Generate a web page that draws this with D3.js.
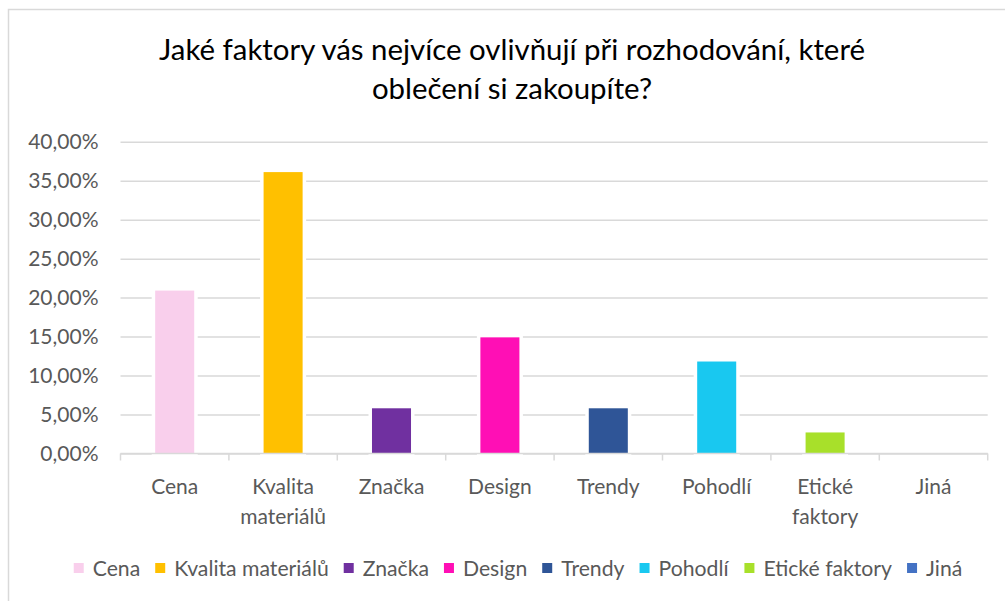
<!DOCTYPE html>
<html>
<head>
<meta charset="utf-8" />
<title>Faktory při nákupu oblečení</title>
<style>
  body { margin: 0; background: #fff; }
  svg text { font-family: Lato, "Open Sans", sans-serif; }
</style>
</head>
<body>
<div id="chart"></div>
<script src="https://d3js.org/d3.v7.min.js"></script>
<script>
// data
var categories = ["Cena", "Kvalita materiálů", "Značka", "Design", "Trendy", "Pohodlí", "Etické faktory", "Jiná"];
var values = [0.209, 0.361, 0.058, 0.149, 0.058, 0.118, 0.027, 0.0];
var colours = ["#f9cfec", "#ffc000", "#7030a0", "#ff0fb5", "#2f5597", "#19c8f0", "#a8e02a", "#4472c4"];
var yTicks = [0, 0.05, 0.10, 0.15, 0.20, 0.25, 0.30, 0.35, 0.40];
var titleLines = ["Jaké faktory vás nejvíce ovlivňují při rozhodování, které", "oblečení si zakoupíte?"];

var W = 1005, H = 601;
var plot = {left: 120.5, right: 987.7, top: 141.7, bottom: 453.5};

var svg = d3.select("#chart").append("svg")
  .attr("width", W).attr("height", H);

// outer chart border (runs off the right and bottom of the picture)
svg.append("rect")
  .attr("x", 8.5).attr("y", 9.5)
  .attr("width", W + 20).attr("height", H + 20)
  .attr("fill", "#fff").attr("stroke", "#d9d9d9").attr("stroke-width", 1.5);

// title
svg.append("text")
  .attr("text-anchor", "middle")
  .attr("font-size", 29.4)
  .attr("fill", "#000")
  .selectAll("tspan").data(titleLines).enter().append("tspan")
  .attr("x", 512).attr("y", function(d, i){ return 60 + i * 39; })
  .text(function(d){ return d; });

var x = d3.scaleBand().domain(categories).range([plot.left, plot.right]).paddingInner(0.64).paddingOuter(0.32);
var y = d3.scaleLinear().domain([0, 0.40]).range([plot.bottom, plot.top]);
var pct = function(v){ return d3.format(".2f")(v * 100).replace(".", ",") + "%"; };

// gridlines + y labels
var yAxis = d3.axisLeft(y).tickValues(yTicks).tickSize(-(plot.right - plot.left)).tickPadding(22).tickFormat(pct);
var gy = svg.append("g").attr("transform", "translate(" + plot.left + ",0)").call(yAxis);
gy.select(".domain").remove();
gy.selectAll(".tick line").attr("stroke", "#d9d9d9").attr("stroke-width", 1.5);
gy.selectAll(".tick text").attr("font-size", 21).attr("fill", "#595959")
  .attr("font-family", "Lato, 'Open Sans', sans-serif").attr("x", -22);

// bars with a white halo that cuts the gridlines
svg.append("g").selectAll("rect").data(values).enter().append("rect")
  .attr("x", function(d, i){ return x(categories[i]); })
  .attr("width", x.bandwidth())
  .attr("y", function(d){ return y(d); })
  .attr("height", function(d){ return plot.bottom - y(d); })
  .attr("fill", function(d, i){ return colours[i]; })
  .attr("stroke", "#fff").attr("stroke-width", 7)
  .style("paint-order", "stroke")
  .style("display", function(d){ return d > 0 ? null : "none"; });

// x axis line and tick marks at band edges
var step = x.step();
var edges = d3.range(categories.length + 1).map(function(i){ return plot.left + i * step; });
var gx = svg.append("g");
gx.append("line").attr("x1", plot.left).attr("x2", plot.right)
  .attr("y1", plot.bottom).attr("y2", plot.bottom)
  .attr("stroke", "#d9d9d9").attr("stroke-width", 1.5);
gx.selectAll("line.tk").data(edges).enter().append("line").attr("class", "tk")
  .attr("x1", function(d){ return d; }).attr("x2", function(d){ return d; })
  .attr("y1", plot.bottom).attr("y2", plot.bottom + 7)
  .attr("stroke", "#d9d9d9").attr("stroke-width", 1.5);

// category labels, wrapped on words when wider than a band
var labels = gx.selectAll("text.cat").data(categories).enter().append("text").attr("class", "cat")
  .attr("text-anchor", "middle").attr("font-size", 21).attr("fill", "#595959")
  .attr("transform", function(d){ return "translate(" + (x(d) + x.bandwidth() / 2) + ",0)"; });
labels.each(function(d){
  var t = d3.select(this);
  var words = d.split(" ");
  var lines = [], cur = "";
  words.forEach(function(w){
    var test = cur ? cur + " " + w : w;
    t.text(test);
    if (cur && this.getComputedTextLength() > step - 10) { lines.push(cur); cur = w; }
    else cur = test;
  }, this);
  lines.push(cur);
  t.text(null);
  t.selectAll("tspan").data(lines).enter().append("tspan")
    .attr("x", 0).attr("y", function(l, i){ return 494 + i * 30; })
    .text(function(l){ return l; });
});

// legend
var legend = svg.append("g").attr("transform", "translate(0,568)");
var items = legend.selectAll("g").data(categories).enter().append("g");
items.append("rect").attr("width", 10).attr("height", 10).attr("y", -5)
  .attr("fill", function(d, i){ return colours[i]; });
items.append("text").attr("x", 19).attr("y", 7.5).attr("font-size", 21.2).attr("fill", "#595959")
  .text(function(d){ return d; });
var lx = 0, widths = [];
items.each(function(){ widths.push(this.getBBox().width); });
var total = d3.sum(widths) + 15 * (widths.length - 1);
lx = 518 - total / 2;
items.attr("transform", function(d, i){
  var p = lx; lx += widths[i] + 15; return "translate(" + p + ",0)";
});
</script>
</body>
</html>
